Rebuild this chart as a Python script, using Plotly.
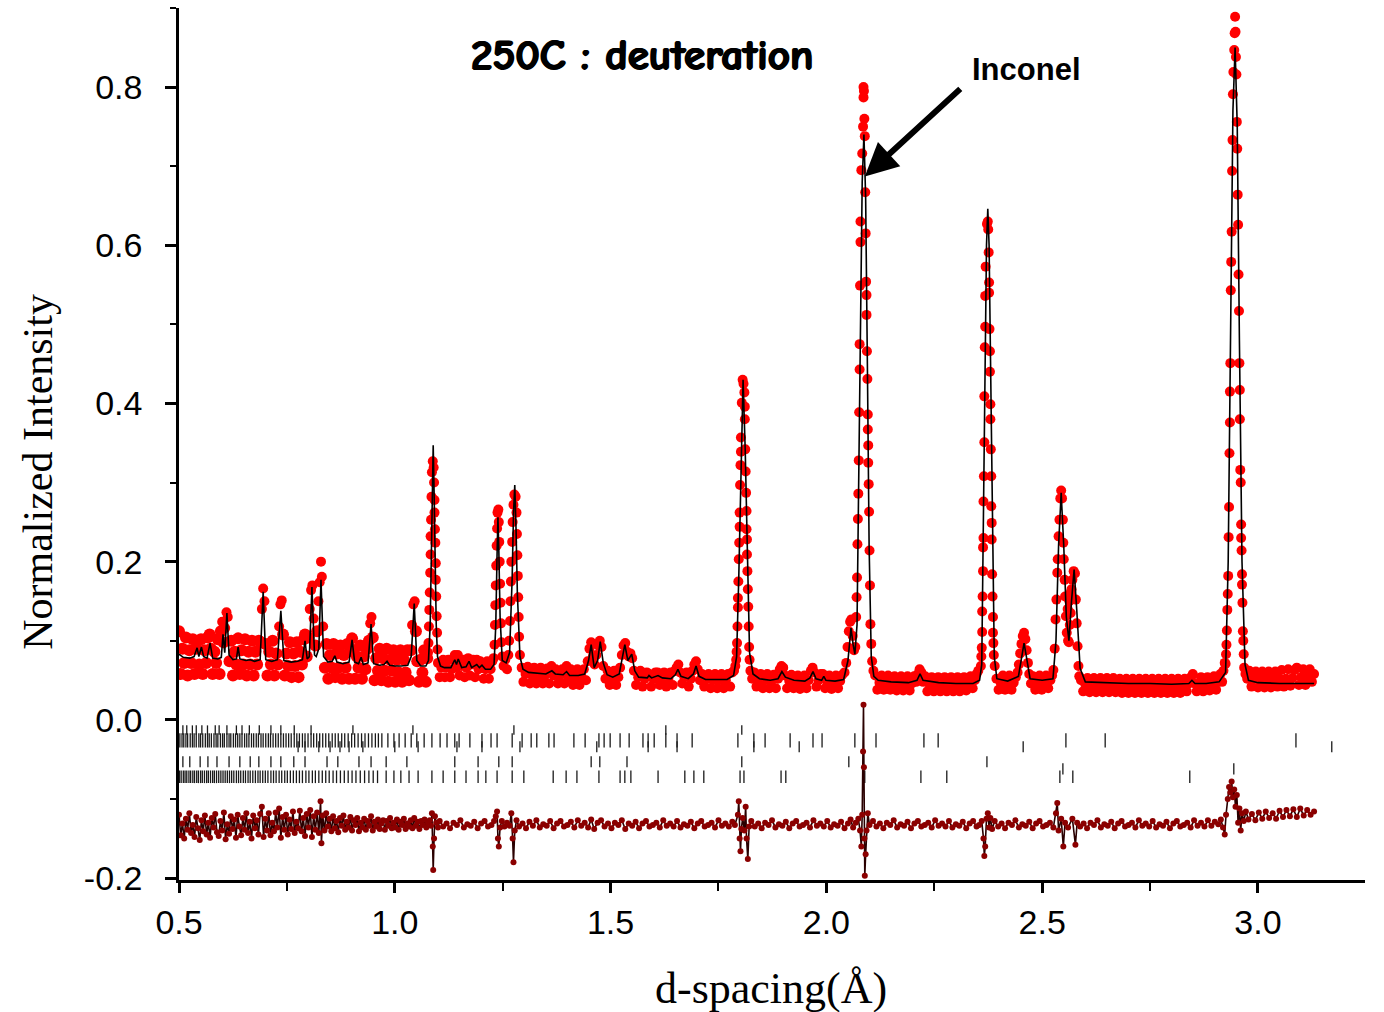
import plotly.graph_objects as go

# ---------------- observed profile (d-spacing in Angstrom, normalized intensity) ----------------
obs_low = [
    (0.500,0.112),(0.504,0.058),(0.508,0.090),(0.512,0.072),(0.516,0.104),(0.520,0.056),(0.524,0.088),(0.528,0.072),
    (0.532,0.102),(0.536,0.058),(0.540,0.090),(0.543,0.100),(0.547,0.070),(0.551,0.102),(0.555,0.058),(0.559,0.088),
    (0.563,0.072),(0.567,0.104),(0.571,0.108),(0.574,0.090),(0.578,0.058),(0.582,0.086),(0.586,0.072),(0.590,0.102),
    (0.594,0.058),(0.597,0.112),(0.600,0.124),(0.603,0.098),(0.607,0.116),(0.610,0.136),(0.613,0.130),(0.617,0.074),
    (0.621,0.100),(0.625,0.056),(0.629,0.086),(0.633,0.070),(0.637,0.103),(0.641,0.058),(0.645,0.088),(0.649,0.070),
    (0.653,0.102),(0.657,0.056),(0.661,0.086),(0.665,0.070),(0.669,0.100),(0.673,0.056),(0.677,0.086),(0.681,0.070),
    (0.685,0.100),(0.689,0.098),(0.692,0.140),(0.695,0.166),(0.698,0.150),(0.701,0.096),(0.705,0.056),(0.709,0.086),
    (0.713,0.070),(0.717,0.100),(0.721,0.056),(0.725,0.084),(0.729,0.070),(0.732,0.118),(0.735,0.146),(0.738,0.151),
    (0.741,0.108),(0.745,0.056),(0.749,0.084),(0.753,0.068),(0.757,0.098),(0.761,0.054),(0.765,0.084),(0.769,0.068),
    (0.773,0.098),(0.777,0.054),(0.781,0.086),(0.785,0.070),(0.789,0.102),(0.792,0.108),(0.796,0.080),(0.800,0.104),
    (0.803,0.140),(0.806,0.164),(0.809,0.170),(0.812,0.128),(0.816,0.094),(0.820,0.112),(0.823,0.150),(0.826,0.174),
    (0.829,0.200),(0.831,0.181),(0.834,0.118),(0.838,0.066),(0.842,0.096),(0.846,0.052),(0.850,0.082),(0.854,0.066),
    (0.858,0.096),(0.862,0.054),(0.866,0.084),(0.870,0.066),(0.874,0.094),(0.878,0.052),(0.882,0.082),(0.886,0.066),
    (0.890,0.096),(0.894,0.052),(0.898,0.090),(0.901,0.103),(0.904,0.086),(0.908,0.052),(0.912,0.080),(0.916,0.066),
    (0.920,0.094),(0.924,0.052),(0.928,0.080),(0.932,0.064),(0.936,0.090),(0.940,0.100),(0.943,0.122),(0.946,0.130),
    (0.949,0.104),(0.953,0.050),(0.957,0.078),(0.961,0.062),(0.965,0.090),(0.969,0.050),(0.973,0.078),(0.977,0.062),
    (0.981,0.090),(0.985,0.048),(0.989,0.076),(0.993,0.062),(0.997,0.088),(1.001,0.048),(1.005,0.076),(1.009,0.060),
    (1.013,0.088),(1.017,0.048),(1.021,0.076),(1.025,0.060),(1.029,0.088),(1.033,0.050),(1.037,0.088),(1.040,0.120),
    (1.043,0.146),(1.046,0.150),(1.049,0.112),(1.052,0.074),(1.056,0.048),(1.060,0.076),(1.064,0.060),(1.068,0.088),
    (1.072,0.048),(1.075,0.078),
    (1.077,0.085),(1.078,0.097),(1.079,0.118),(1.080,0.139),(1.081,0.161),(1.082,0.186),(1.083,0.209),(1.083,0.232),
    (1.084,0.253),(1.085,0.282),(1.086,0.313),(1.088,0.327),(1.090,0.319),(1.091,0.300),(1.092,0.278),(1.092,0.262),
    (1.093,0.241),(1.094,0.224),(1.095,0.198),(1.095,0.177),(1.096,0.156),(1.097,0.131),(1.098,0.110),(1.099,0.089),
    (1.100,0.072),
]

obs_mid = [
    (1.104,0.054),(1.108,0.066),(1.112,0.076),(1.116,0.054),(1.120,0.066),(1.124,0.076),(1.128,0.054),(1.132,0.064),
    (1.136,0.076),(1.139,0.082),(1.142,0.066),(1.146,0.082),(1.150,0.056),(1.154,0.068),(1.158,0.076),(1.162,0.054),
    (1.166,0.066),(1.170,0.078),(1.174,0.056),(1.178,0.070),(1.182,0.076),(1.186,0.054),(1.190,0.076),(1.194,0.064),
    (1.198,0.074),(1.202,0.070),(1.206,0.052),(1.210,0.064),(1.214,0.074),(1.218,0.052),(1.222,0.064),(1.226,0.074),
    (1.229,0.078),(1.231,0.095),(1.232,0.120),(1.233,0.145),(1.234,0.170),(1.235,0.195),(1.236,0.220),(1.237,0.242),
    (1.238,0.262),(1.240,0.266),(1.241,0.250),(1.242,0.225),(1.243,0.200),(1.244,0.172),(1.245,0.148),(1.246,0.122),
    (1.247,0.098),(1.249,0.080),(1.252,0.068),(1.256,0.076),(1.260,0.064),(1.263,0.082),
    (1.265,0.100),(1.267,0.125),(1.268,0.150),(1.269,0.175),(1.270,0.200),(1.272,0.225),(1.273,0.250),(1.275,0.272),
    (1.277,0.285),(1.280,0.282),(1.282,0.262),(1.283,0.235),(1.284,0.208),(1.285,0.182),(1.286,0.155),(1.287,0.130),
    (1.288,0.105),(1.290,0.082),
    (1.294,0.066),(1.298,0.048),(1.303,0.058),(1.308,0.067),(1.313,0.046),(1.318,0.056),(1.323,0.066),(1.328,0.046),
    (1.333,0.056),(1.338,0.066),(1.343,0.046),(1.348,0.056),(1.353,0.065),(1.358,0.046),(1.363,0.068),(1.368,0.056),
    (1.373,0.064),(1.378,0.046),(1.383,0.056),(1.388,0.064),(1.393,0.046),(1.398,0.068),(1.403,0.054),(1.408,0.064),
    (1.413,0.044),(1.418,0.054),(1.423,0.064),(1.428,0.044),(1.433,0.054),(1.438,0.064),(1.443,0.050),(1.447,0.074),
    (1.451,0.090),(1.455,0.098),(1.459,0.080),(1.463,0.070),(1.467,0.082),(1.471,0.094),(1.475,0.100),(1.479,0.092),
    (1.483,0.068),(1.488,0.052),(1.493,0.062),(1.498,0.044),(1.503,0.054),(1.508,0.062),(1.513,0.044),(1.518,0.054),
    (1.522,0.066),(1.526,0.082),(1.530,0.094),(1.534,0.097),(1.538,0.086),(1.542,0.080),(1.546,0.084),(1.550,0.078),
    (1.554,0.062),(1.559,0.044),(1.564,0.054),(1.569,0.062),(1.574,0.042),(1.579,0.052),(1.584,0.060),(1.589,0.058),
    (1.594,0.042),(1.599,0.052),(1.604,0.060),(1.609,0.060),(1.614,0.044),(1.619,0.052),(1.624,0.060),(1.629,0.042),
    (1.634,0.052),(1.639,0.060),(1.644,0.044),(1.649,0.062),(1.653,0.066),(1.657,0.070),(1.661,0.060),(1.666,0.046),
    (1.671,0.054),(1.676,0.060),(1.681,0.042),(1.686,0.052),(1.690,0.062),(1.694,0.070),(1.698,0.074),(1.702,0.064),
    (1.707,0.050),(1.712,0.058),(1.717,0.042),(1.722,0.051),(1.727,0.058),(1.732,0.040),(1.737,0.050),(1.742,0.058),
    (1.747,0.040),(1.752,0.050),(1.757,0.058),(1.762,0.040),(1.767,0.050),(1.772,0.058),(1.777,0.042),(1.782,0.060),
    (1.786,0.062),(1.789,0.068),
    (1.791,0.076),(1.792,0.086),(1.793,0.097),(1.794,0.118),(1.795,0.142),(1.795,0.154),(1.796,0.175),(1.797,0.203),
    (1.798,0.224),(1.799,0.244),(1.799,0.262),(1.800,0.297),(1.801,0.322),(1.802,0.339),(1.802,0.357),(1.804,0.401),
    (1.806,0.430),(1.808,0.425),(1.810,0.414),(1.811,0.396),(1.811,0.380),(1.812,0.342),(1.813,0.314),(1.814,0.287),
    (1.815,0.264),(1.815,0.241),(1.816,0.228),(1.816,0.209),(1.817,0.188),(1.818,0.165),(1.819,0.143),(1.820,0.118),
    (1.821,0.092),(1.822,0.076),(1.824,0.062),
    (1.828,0.052),(1.833,0.060),(1.838,0.042),(1.843,0.050),(1.848,0.058),(1.853,0.040),(1.858,0.050),(1.863,0.058),
    (1.868,0.040),(1.873,0.049),(1.878,0.057),(1.883,0.040),(1.888,0.052),(1.892,0.064),(1.896,0.068),(1.900,0.066),
    (1.904,0.056),(1.909,0.040),(1.914,0.049),(1.919,0.057),(1.924,0.040),(1.929,0.048),(1.934,0.056),(1.939,0.039),
    (1.944,0.048),(1.949,0.056),(1.954,0.040),(1.959,0.050),(1.964,0.062),(1.968,0.066),(1.972,0.060),(1.977,0.042),
    (1.982,0.050),(1.987,0.058),(1.992,0.058),(1.997,0.040),(2.002,0.048),(2.007,0.056),(2.012,0.039),(2.017,0.048),
    (2.022,0.056),(2.027,0.040),(2.032,0.049),(2.037,0.057),(2.042,0.060),(2.046,0.072),(2.049,0.092),(2.052,0.112),
    (2.055,0.124),(2.058,0.127),(2.061,0.106),(2.064,0.088),(2.067,0.092),
    (2.069,0.130),(2.070,0.155),(2.071,0.180),(2.072,0.222),(2.073,0.254),(2.074,0.286),(2.075,0.328),(2.076,0.389),
    (2.077,0.443),(2.077,0.475),(2.078,0.549),(2.079,0.604),(2.079,0.630),(2.081,0.695),(2.083,0.716),(2.085,0.750),
    (2.086,0.787),(2.086,0.800),(2.087,0.795),(2.088,0.760),(2.089,0.738),(2.090,0.667),(2.091,0.615),(2.092,0.554),
    (2.093,0.537),(2.093,0.512),(2.094,0.466),(2.095,0.431),(2.096,0.386),(2.096,0.367),(2.097,0.347),(2.097,0.325),
    (2.098,0.298),(2.099,0.263),(2.100,0.214),(2.101,0.170),(2.102,0.121),(2.104,0.096),(2.106,0.074),(2.109,0.062),
]

obs_high = [
    (2.113,0.056),(2.118,0.038),(2.123,0.047),(2.128,0.056),(2.133,0.038),(2.138,0.047),(2.143,0.056),(2.148,0.038),
    (2.153,0.047),(2.158,0.055),(2.163,0.037),(2.168,0.046),(2.173,0.055),(2.178,0.037),(2.183,0.046),(2.188,0.055),
    (2.193,0.037),(2.198,0.046),(2.203,0.055),(2.208,0.048),(2.212,0.058),(2.216,0.064),(2.220,0.060),(2.224,0.048),
    (2.229,0.055),(2.234,0.036),(2.239,0.045),(2.244,0.054),(2.249,0.036),(2.254,0.045),(2.259,0.054),(2.264,0.036),
    (2.269,0.045),(2.274,0.054),(2.279,0.036),(2.284,0.045),(2.289,0.054),(2.294,0.036),(2.299,0.045),(2.304,0.054),
    (2.309,0.036),(2.314,0.045),(2.319,0.054),(2.324,0.037),(2.329,0.046),(2.334,0.055),(2.339,0.040),(2.344,0.050),
    (2.348,0.058),(2.352,0.062),
    (2.358,0.068),(2.359,0.080),(2.360,0.091),(2.361,0.111),(2.361,0.137),(2.362,0.156),(2.363,0.188),(2.363,0.218),
    (2.364,0.230),(2.364,0.276),(2.365,0.308),(2.366,0.351),(2.366,0.409),(2.367,0.471),(2.368,0.497),(2.368,0.536),
    (2.369,0.573),(2.372,0.627),(2.374,0.630),(2.375,0.620),(2.376,0.591),(2.377,0.553),(2.377,0.540),(2.378,0.494),
    (2.379,0.466),(2.379,0.440),(2.380,0.399),(2.380,0.380),(2.381,0.342),(2.382,0.308),(2.382,0.270),(2.383,0.249),
    (2.383,0.228),(2.384,0.184),(2.385,0.156),(2.386,0.130),(2.386,0.110),(2.387,0.097),(2.388,0.082),(2.390,0.068),
    (2.394,0.052),(2.399,0.038),(2.404,0.047),(2.409,0.056),(2.414,0.038),(2.419,0.047),(2.424,0.056),(2.429,0.038),
    (2.434,0.047),(2.439,0.054),(2.443,0.060),
    (2.446,0.070),(2.449,0.084),(2.452,0.096),(2.455,0.106),(2.458,0.110),(2.461,0.102),(2.464,0.088),(2.467,0.072),
    (2.470,0.058),(2.474,0.046),(2.479,0.055),(2.484,0.038),(2.489,0.047),(2.494,0.056),(2.499,0.038),(2.504,0.047),
    (2.509,0.056),(2.514,0.040),(2.519,0.050),(2.523,0.056),(2.526,0.063),
    (2.529,0.090),(2.531,0.127),(2.533,0.152),(2.535,0.186),(2.536,0.203),(2.538,0.232),(2.540,0.253),(2.542,0.280),
    (2.544,0.290),(2.546,0.280),(2.548,0.253),(2.549,0.224),(2.550,0.203),(2.552,0.177),(2.553,0.156),(2.555,0.131),
    (2.557,0.110),(2.559,0.140),(2.560,0.100),(2.562,0.098),(2.563,0.150),(2.564,0.120),(2.565,0.160),(2.566,0.135),
    (2.568,0.165),(2.570,0.177),(2.573,0.188),(2.576,0.185),(2.578,0.152),(2.580,0.122),(2.582,0.093),(2.584,0.068),
    (2.586,0.055),
    (2.590,0.050),(2.595,0.036),(2.600,0.045),(2.605,0.053),(2.610,0.035),(2.615,0.044),(2.620,0.053),(2.625,0.035),
    (2.630,0.044),(2.635,0.053),(2.640,0.035),(2.645,0.044),(2.650,0.053),(2.655,0.035),(2.660,0.044),(2.665,0.053),
    (2.670,0.035),(2.675,0.044),(2.680,0.052),(2.685,0.034),(2.690,0.043),(2.695,0.052),(2.700,0.034),(2.705,0.043),
    (2.710,0.052),(2.715,0.034),(2.720,0.043),(2.725,0.052),(2.730,0.034),(2.735,0.043),(2.740,0.052),(2.745,0.034),
    (2.750,0.043),(2.755,0.052),(2.760,0.034),(2.765,0.043),(2.770,0.052),(2.775,0.034),(2.780,0.043),(2.785,0.052),
    (2.790,0.034),(2.795,0.043),(2.800,0.052),(2.805,0.034),(2.810,0.043),(2.815,0.052),(2.820,0.034),(2.825,0.043),
    (2.830,0.052),(2.835,0.036),(2.840,0.046),(2.845,0.054),(2.849,0.058),(2.853,0.046),(2.858,0.036),(2.863,0.045),
    (2.868,0.054),(2.873,0.036),(2.878,0.045),(2.883,0.054),(2.888,0.037),(2.893,0.046),(2.898,0.055),(2.903,0.038),
    (2.908,0.048),(2.913,0.058),(2.917,0.048),(2.920,0.062),(2.923,0.072),
    (2.925,0.071),(2.926,0.083),(2.927,0.095),(2.928,0.113),(2.929,0.139),(2.930,0.159),(2.931,0.182),(2.932,0.231),
    (2.933,0.269),(2.934,0.337),(2.935,0.376),(2.935,0.415),(2.936,0.451),(2.937,0.543),(2.938,0.579),(2.939,0.617),
    (2.940,0.694),(2.941,0.733),(2.942,0.791),(2.943,0.819),(2.945,0.847),(2.946,0.868),(2.947,0.889),(2.948,0.870),
    (2.949,0.838),(2.950,0.816),(2.951,0.756),(2.952,0.722),(2.953,0.664),(2.954,0.626),(2.955,0.563),(2.956,0.517),
    (2.957,0.451),(2.958,0.417),(2.958,0.380),(2.959,0.316),(2.960,0.300),(2.961,0.247),(2.961,0.230),(2.962,0.214),
    (2.963,0.184),(2.963,0.171),(2.964,0.148),(2.965,0.112),(2.966,0.100),(2.967,0.083),(2.968,0.066),(2.971,0.058),
    (2.975,0.052),(2.980,0.062),(2.985,0.042),(2.990,0.052),(2.995,0.061),(3.000,0.041),(3.005,0.051),(3.010,0.061),
    (3.015,0.041),(3.020,0.051),(3.025,0.061),(3.030,0.041),(3.035,0.051),(3.040,0.061),(3.045,0.042),(3.050,0.052),
    (3.055,0.063),(3.060,0.042),(3.065,0.052),(3.070,0.064),(3.075,0.043),(3.080,0.053),(3.085,0.063),(3.090,0.066),
    (3.095,0.044),(3.100,0.054),(3.105,0.064),(3.110,0.044),(3.115,0.054),(3.120,0.064),(3.125,0.048),(3.130,0.058),
]

# ---------------- calculated profile ----------------
calc_profile = [
    (0.500,0.083),(0.510,0.079),(0.525,0.078),(0.535,0.080),(0.542,0.091),(0.546,0.080),(0.552,0.092),(0.557,0.080),
    (0.565,0.078),(0.572,0.097),(0.578,0.078),(0.590,0.077),(0.598,0.079),(0.602,0.108),(0.606,0.085),(0.611,0.135),
    (0.616,0.082),(0.625,0.076),(0.633,0.077),(0.637,0.092),(0.641,0.077),(0.655,0.075),(0.665,0.076),(0.675,0.074),
    (0.688,0.076),(0.695,0.162),(0.701,0.076),(0.715,0.074),(0.728,0.076),(0.736,0.138),(0.743,0.075),(0.760,0.073),
    (0.775,0.074),(0.786,0.076),(0.792,0.100),(0.797,0.077),(0.802,0.080),(0.808,0.168),(0.814,0.082),(0.818,0.080),
    (0.824,0.090),(0.829,0.177),(0.835,0.080),(0.845,0.073),(0.855,0.074),(0.861,0.081),(0.866,0.073),(0.880,0.071),
    (0.894,0.073),(0.901,0.101),(0.907,0.073),(0.916,0.071),(0.922,0.079),(0.927,0.070),(0.938,0.072),(0.945,0.121),
    (0.951,0.071),(0.965,0.069),(0.975,0.070),(0.982,0.074),(0.988,0.069),(1.000,0.068),(1.015,0.068),(1.030,0.069),
    (1.038,0.080),(1.045,0.147),(1.051,0.075),(1.060,0.068),(1.072,0.068),(1.078,0.075),(1.082,0.120),(1.085,0.210),
    (1.087,0.290),(1.089,0.347),(1.091,0.290),(1.093,0.200),(1.096,0.120),(1.099,0.080),(1.106,0.068),(1.115,0.066),
    (1.130,0.066),(1.139,0.076),(1.143,0.070),(1.147,0.077),(1.155,0.066),(1.165,0.067),(1.172,0.074),(1.178,0.066),
    (1.190,0.070),(1.196,0.066),(1.202,0.069),(1.210,0.064),(1.222,0.064),(1.230,0.070),(1.234,0.120),(1.237,0.210),
    (1.239,0.256),(1.241,0.215),(1.244,0.130),(1.249,0.075),(1.258,0.072),(1.266,0.085),(1.272,0.180),(1.275,0.260),
    (1.278,0.297),(1.281,0.240),(1.284,0.160),(1.290,0.080),(1.297,0.064),(1.310,0.060),(1.330,0.059),(1.350,0.058),
    (1.364,0.062),(1.372,0.058),(1.390,0.057),(1.398,0.061),(1.405,0.056),(1.425,0.056),(1.440,0.058),(1.449,0.075),
    (1.455,0.095),(1.462,0.066),(1.470,0.075),(1.476,0.099),(1.483,0.072),(1.492,0.057),(1.505,0.054),(1.520,0.058),
    (1.533,0.095),(1.540,0.075),(1.549,0.083),(1.556,0.062),(1.565,0.054),(1.585,0.053),(1.589,0.056),(1.595,0.053),
    (1.610,0.056),(1.620,0.053),(1.640,0.052),(1.650,0.057),(1.656,0.064),(1.663,0.055),(1.680,0.052),(1.692,0.058),
    (1.698,0.068),(1.705,0.055),(1.720,0.051),(1.740,0.051),(1.770,0.051),(1.785,0.056),(1.792,0.080),(1.797,0.180),
    (1.802,0.330),(1.807,0.430),(1.812,0.340),(1.817,0.200),(1.822,0.085),(1.830,0.058),(1.845,0.052),(1.870,0.050),
    (1.888,0.052),(1.897,0.061),(1.905,0.054),(1.925,0.050),(1.950,0.049),(1.962,0.053),(1.969,0.061),(1.976,0.052),
    (1.989,0.050),(1.994,0.055),(1.999,0.050),(2.020,0.049),(2.040,0.051),(2.050,0.075),(2.057,0.116),(2.062,0.095),
    (2.066,0.083),(2.071,0.120),(2.075,0.300),(2.079,0.520),(2.083,0.680),(2.087,0.740),(2.091,0.660),(2.095,0.450),
    (2.099,0.220),(2.104,0.080),(2.110,0.055),(2.120,0.050),(2.150,0.048),(2.190,0.047),(2.210,0.050),(2.217,0.058),
    (2.224,0.050),(2.260,0.047),(2.300,0.046),(2.340,0.046),(2.355,0.050),(2.360,0.070),(2.364,0.250),(2.368,0.480),
    (2.371,0.600),(2.374,0.646),(2.377,0.600),(2.380,0.470),(2.384,0.260),(2.389,0.080),(2.395,0.052),(2.420,0.049),
    (2.445,0.055),(2.452,0.080),(2.458,0.097),(2.464,0.078),(2.472,0.052),(2.500,0.050),(2.525,0.052),(2.532,0.100),
    (2.538,0.220),(2.544,0.287),(2.550,0.220),(2.556,0.130),(2.562,0.100),(2.568,0.150),(2.574,0.190),(2.580,0.140),
    (2.588,0.065),(2.600,0.048),(2.650,0.047),(2.700,0.046),(2.750,0.046),(2.800,0.045),(2.840,0.046),(2.847,0.050),
    (2.854,0.046),(2.880,0.046),(2.910,0.048),(2.925,0.060),(2.931,0.200),(2.937,0.500),(2.942,0.770),(2.947,0.850),
    (2.952,0.750),(2.957,0.480),(2.963,0.200),(2.970,0.070),(2.978,0.050),(3.000,0.047),(3.050,0.046),(3.100,0.046),
    (3.130,0.046),
]

# ---------------- difference curve (offset below the pattern) ----------------
diff_low = [
    (0.500,-0.120),(0.504,-0.146),(0.508,-0.131),(0.512,-0.150),(0.516,-0.125),(0.520,-0.139),(0.524,-0.118),(0.528,-0.143),
    (0.532,-0.133),(0.536,-0.148),(0.540,-0.123),(0.544,-0.137),(0.548,-0.152),(0.552,-0.127),(0.556,-0.141),(0.560,-0.121),
    (0.564,-0.145),(0.568,-0.130),(0.572,-0.149),(0.576,-0.124),(0.580,-0.136),(0.584,-0.119),(0.588,-0.142),(0.592,-0.147),
    (0.596,-0.128),(0.600,-0.140),(0.604,-0.117),(0.608,-0.151),(0.612,-0.132),(0.616,-0.144),(0.620,-0.122),(0.624,-0.138),
    (0.628,-0.126),(0.632,-0.149),(0.636,-0.120),(0.640,-0.135),(0.644,-0.146),(0.648,-0.124),(0.652,-0.139),(0.656,-0.118),
    (0.660,-0.143),(0.664,-0.129),(0.668,-0.150),(0.672,-0.121),(0.676,-0.137),(0.680,-0.127),(0.684,-0.145),(0.688,-0.119),
    (0.692,-0.110),(0.696,-0.148),(0.700,-0.125),(0.704,-0.140),(0.708,-0.118),(0.712,-0.146),(0.716,-0.130),(0.720,-0.141),
    (0.724,-0.117),(0.728,-0.136),(0.732,-0.112),(0.736,-0.149),(0.740,-0.123),(0.744,-0.139),(0.748,-0.120),(0.752,-0.145),
    (0.756,-0.126),(0.760,-0.138),(0.764,-0.116),(0.768,-0.143),(0.772,-0.129),(0.776,-0.137),(0.780,-0.115),(0.784,-0.141),
    (0.788,-0.124),(0.792,-0.147),(0.796,-0.119),(0.800,-0.136),(0.804,-0.114),(0.808,-0.148),(0.812,-0.122),(0.816,-0.139),
    (0.820,-0.117),(0.824,-0.143),(0.828,-0.103),(0.830,-0.156),(0.833,-0.121),(0.837,-0.140),(0.841,-0.118),(0.845,-0.135),
    (0.849,-0.125),(0.853,-0.141),(0.857,-0.122),(0.861,-0.137),(0.865,-0.128),(0.869,-0.142),(0.873,-0.124),(0.877,-0.134),
    (0.881,-0.121),(0.885,-0.139),(0.889,-0.129),(0.893,-0.136),(0.897,-0.123),(0.901,-0.140),(0.905,-0.127),(0.909,-0.133),
    (0.913,-0.124),(0.917,-0.141),(0.921,-0.130),(0.925,-0.136),(0.929,-0.125),(0.933,-0.139),(0.937,-0.128),(0.941,-0.134),
    (0.945,-0.122),(0.949,-0.140),(0.953,-0.129),(0.957,-0.135),(0.961,-0.126),(0.965,-0.138),(0.969,-0.131),(0.973,-0.127),
    (0.977,-0.139),(0.981,-0.128),(0.985,-0.134),(0.989,-0.124),(0.993,-0.137),(0.997,-0.130),(1.001,-0.136),(1.005,-0.126),
    (1.009,-0.139),(1.013,-0.129),(1.017,-0.133),(1.021,-0.125),(1.025,-0.138),(1.029,-0.131),(1.033,-0.135),(1.037,-0.127),
    (1.041,-0.137),(1.045,-0.124),(1.049,-0.134),(1.053,-0.129),(1.057,-0.138),(1.061,-0.128),(1.065,-0.133),(1.069,-0.126),
    (1.073,-0.136),(1.077,-0.130),(1.081,-0.127),(1.084,-0.134),(1.086,-0.118),(1.088,-0.160),(1.089,-0.190),(1.091,-0.150),
    (1.093,-0.122),(1.096,-0.130),(1.100,-0.136),
]

diff_mid = [
    (1.104,-0.128),(1.112,-0.135),(1.120,-0.131),(1.128,-0.137),(1.136,-0.130),(1.144,-0.133),(1.152,-0.127),(1.160,-0.136),
    (1.168,-0.132),(1.176,-0.134),(1.184,-0.129),(1.192,-0.137),(1.200,-0.131),(1.208,-0.128),(1.216,-0.135),(1.224,-0.133),
    (1.230,-0.128),(1.234,-0.122),(1.237,-0.116),(1.239,-0.150),(1.241,-0.160),(1.244,-0.136),(1.248,-0.128),(1.254,-0.135),
    (1.260,-0.130),(1.266,-0.134),(1.270,-0.118),(1.273,-0.150),(1.275,-0.180),(1.278,-0.140),(1.282,-0.127),(1.288,-0.135),
    (1.296,-0.131),(1.304,-0.137),(1.312,-0.129),(1.320,-0.134),(1.328,-0.127),(1.336,-0.136),(1.344,-0.132),(1.352,-0.134),
    (1.360,-0.128),(1.368,-0.137),(1.376,-0.131),(1.384,-0.128),(1.392,-0.135),(1.400,-0.133),(1.408,-0.129),(1.416,-0.136),
    (1.424,-0.127),(1.432,-0.134),(1.440,-0.130),(1.448,-0.136),(1.455,-0.126),(1.462,-0.138),(1.470,-0.130),(1.478,-0.127),
    (1.486,-0.135),(1.494,-0.131),(1.502,-0.137),(1.510,-0.130),(1.518,-0.133),(1.526,-0.127),(1.534,-0.138),(1.542,-0.131),
    (1.550,-0.134),(1.558,-0.129),(1.566,-0.137),(1.574,-0.131),(1.582,-0.128),(1.590,-0.135),(1.598,-0.133),(1.606,-0.130),
    (1.614,-0.136),(1.622,-0.127),(1.630,-0.134),(1.638,-0.131),(1.646,-0.135),(1.654,-0.128),(1.662,-0.136),(1.670,-0.132),
    (1.678,-0.134),(1.686,-0.129),(1.694,-0.137),(1.702,-0.131),(1.710,-0.128),(1.718,-0.135),(1.726,-0.133),(1.734,-0.130),
    (1.742,-0.136),(1.750,-0.127),(1.758,-0.134),(1.766,-0.131),(1.774,-0.135),(1.782,-0.129),(1.788,-0.133),(1.795,-0.120),
    (1.797,-0.103),(1.799,-0.150),(1.801,-0.166),(1.803,-0.138),(1.806,-0.124),(1.810,-0.140),(1.813,-0.110),(1.815,-0.150),
    (1.818,-0.176),(1.821,-0.135),(1.826,-0.128),(1.834,-0.135),(1.842,-0.131),(1.850,-0.137),(1.858,-0.130),(1.866,-0.133),
    (1.874,-0.127),(1.882,-0.136),(1.890,-0.132),(1.898,-0.134),(1.906,-0.129),(1.914,-0.137),(1.922,-0.131),(1.930,-0.128),
    (1.938,-0.135),(1.946,-0.133),(1.954,-0.130),(1.962,-0.136),(1.970,-0.127),(1.978,-0.134),(1.986,-0.131),(1.994,-0.135),
    (2.002,-0.128),(2.010,-0.136),(2.018,-0.132),(2.026,-0.134),(2.034,-0.129),(2.042,-0.137),(2.050,-0.131),(2.056,-0.126),
    (2.062,-0.136),(2.068,-0.130),(2.074,-0.125),(2.078,-0.140),(2.081,-0.160),(2.083,-0.120),(2.085,-0.040),(2.086,0.019),
    (2.087,-0.060),(2.088,-0.150),(2.089,-0.197),(2.091,-0.170),(2.093,-0.140),(2.096,-0.118),(2.100,-0.133),
]

diff_high = [
    (2.108,-0.128),(2.116,-0.135),(2.124,-0.131),(2.132,-0.137),(2.140,-0.130),(2.148,-0.133),(2.156,-0.127),(2.164,-0.136),
    (2.172,-0.132),(2.180,-0.134),(2.188,-0.129),(2.196,-0.137),(2.204,-0.131),(2.212,-0.128),(2.220,-0.135),(2.228,-0.133),
    (2.236,-0.130),(2.244,-0.136),(2.252,-0.127),(2.260,-0.134),(2.268,-0.131),(2.276,-0.135),(2.284,-0.128),(2.292,-0.136),
    (2.300,-0.132),(2.308,-0.134),(2.316,-0.129),(2.324,-0.137),(2.332,-0.131),(2.340,-0.128),(2.348,-0.135),(2.354,-0.133),
    (2.360,-0.128),(2.364,-0.150),(2.366,-0.172),(2.368,-0.160),(2.371,-0.125),(2.374,-0.118),(2.377,-0.136),(2.380,-0.124),
    (2.384,-0.138),(2.390,-0.128),(2.398,-0.135),(2.406,-0.131),(2.414,-0.137),(2.422,-0.130),(2.430,-0.133),(2.438,-0.127),
    (2.446,-0.136),(2.454,-0.132),(2.462,-0.134),(2.470,-0.129),(2.478,-0.137),(2.486,-0.131),(2.494,-0.128),(2.502,-0.135),
    (2.510,-0.133),(2.518,-0.130),(2.526,-0.136),(2.532,-0.118),(2.535,-0.105),(2.538,-0.140),(2.544,-0.125),(2.549,-0.160),
    (2.553,-0.130),(2.560,-0.136),(2.570,-0.125),(2.577,-0.158),(2.581,-0.130),(2.588,-0.135),(2.596,-0.131),(2.604,-0.137),
    (2.612,-0.130),(2.620,-0.133),(2.628,-0.127),(2.636,-0.136),(2.644,-0.132),(2.652,-0.134),(2.660,-0.129),(2.668,-0.137),
    (2.676,-0.131),(2.684,-0.128),(2.692,-0.135),(2.700,-0.133),(2.708,-0.130),(2.716,-0.136),(2.724,-0.127),(2.732,-0.134),
    (2.740,-0.131),(2.748,-0.135),(2.756,-0.128),(2.764,-0.136),(2.772,-0.132),(2.780,-0.134),(2.788,-0.129),(2.796,-0.137),
    (2.804,-0.131),(2.812,-0.128),(2.820,-0.135),(2.828,-0.133),(2.836,-0.130),(2.844,-0.136),(2.852,-0.127),(2.860,-0.134),
    (2.868,-0.130),(2.876,-0.135),(2.884,-0.127),(2.892,-0.134),(2.900,-0.129),(2.908,-0.132),(2.914,-0.126),(2.919,-0.136),
    (2.923,-0.145),(2.926,-0.120),(2.930,-0.100),(2.933,-0.085),(2.936,-0.092),(2.939,-0.078),(2.942,-0.098),(2.945,-0.088),
    (2.948,-0.110),(2.951,-0.095),(2.954,-0.130),(2.957,-0.112),(2.960,-0.140),(2.963,-0.118),(2.967,-0.128),(2.972,-0.116),
    (2.978,-0.126),(2.986,-0.119),(2.994,-0.127),(3.002,-0.117),(3.010,-0.125),(3.018,-0.116),(3.026,-0.124),(3.034,-0.118),
    (3.042,-0.125),(3.050,-0.115),(3.058,-0.123),(3.066,-0.114),(3.074,-0.122),(3.082,-0.113),(3.090,-0.123),(3.098,-0.112),
    (3.106,-0.121),(3.114,-0.114),(3.122,-0.120),(3.130,-0.116),
]

# ---------------- reflection positions (d-spacing) for each tick row ----------------
refl_row_a = [0.509, 0.518, 0.531, 0.540, 0.553, 0.566, 0.584, 0.593, 0.611, 0.633, 0.646, 0.663, 0.686, 0.713,
              0.736, 0.767, 0.806, 0.903, 1.042, 1.276, 1.628, 1.804]
refl_row_b = [0.502, 0.507, 0.511, 0.516, 0.520, 0.526, 0.531, 0.535, 0.540, 0.546, 0.550, 0.555, 0.561, 0.566,
              0.570, 0.575, 0.581, 0.586, 0.590, 0.596, 0.601, 0.605, 0.611, 0.616, 0.620, 0.626, 0.631, 0.636,
              0.641, 0.646, 0.652, 0.657, 0.662, 0.668, 0.673, 0.679, 0.684, 0.690, 0.695, 0.701, 0.707, 0.712,
              0.718, 0.724, 0.730, 0.736, 0.742, 0.748, 0.754, 0.760, 0.767, 0.773, 0.779, 0.786, 0.792, 0.799,
              0.806, 0.812, 0.819, 0.826, 0.833, 0.840, 0.847, 0.855, 0.862, 0.869, 0.877, 0.884, 0.892, 0.900,
              0.907, 0.915, 0.923, 0.931, 0.939, 0.947, 0.955, 0.962, 0.970, 0.984, 0.998, 1.010, 1.024, 1.038,
              1.051, 1.068, 1.086, 1.105, 1.121, 1.139, 1.149, 1.174, 1.202, 1.223, 1.237, 1.272, 1.295, 1.316,
              1.329, 1.357, 1.369, 1.415, 1.441, 1.473, 1.485, 1.499, 1.522, 1.543, 1.575, 1.587, 1.601, 1.628,
              1.654, 1.689, 1.795, 1.832, 1.858, 1.916, 1.969, 1.990, 2.066, 2.115, 2.226, 2.259, 2.555, 2.646,
              3.088]
refl_row_c = [0.776, 0.792, 0.824, 0.850, 0.873, 0.894, 0.926, 1.000, 1.054, 1.144, 1.202, 1.290, 1.468, 1.587,
              1.654, 1.832, 1.937, 2.456, 3.171]
refl_row_d = [0.509, 0.525, 0.549, 0.567, 0.588, 0.616, 0.641, 0.665, 0.685, 0.713, 0.736, 0.766, 0.792, 0.843,
              0.868, 0.917, 0.945, 0.980, 1.028, 1.139, 1.193, 1.241, 1.272, 1.455, 1.475, 1.538, 1.804, 2.052,
              2.372]
refl_row_e = [2.548, 2.944]
refl_row_f = [0.501, 0.505, 0.510, 0.514, 0.518, 0.523, 0.527, 0.532, 0.536, 0.541, 0.545, 0.550, 0.554, 0.559,
              0.564, 0.568, 0.573, 0.578, 0.582, 0.587, 0.592, 0.597, 0.602, 0.607, 0.612, 0.617, 0.622, 0.627,
              0.633, 0.638, 0.643, 0.649, 0.654, 0.660, 0.665, 0.671, 0.677, 0.683, 0.688, 0.694, 0.700, 0.706,
              0.713, 0.719, 0.725, 0.732, 0.738, 0.745, 0.751, 0.758, 0.765, 0.772, 0.779, 0.786, 0.794, 0.801,
              0.809, 0.816, 0.824, 0.832, 0.840, 0.848, 0.857, 0.865, 0.874, 0.883, 0.892, 0.901, 0.910, 0.920,
              0.930, 0.940, 0.950, 0.960, 0.980, 0.998, 1.014, 1.033, 1.054, 1.086, 1.112, 1.139, 1.165, 1.193,
              1.211, 1.237, 1.272, 1.299, 1.367, 1.397, 1.422, 1.473, 1.522, 1.533, 1.547, 1.610, 1.672, 1.693,
              1.716, 1.800, 1.809, 1.895, 1.906, 2.089, 2.219, 2.279, 2.541, 2.571, 2.842]

# vertical placement of each tick row: (centre, half-height)
tick_rows = [
    (refl_row_a, -0.013, 0.006),
    (refl_row_b, -0.026, 0.009),
    (refl_row_c, -0.034, 0.007),
    (refl_row_d, -0.053, 0.007),
    (refl_row_e, -0.062, 0.007),
    (refl_row_f, -0.072, 0.008),
]

y_tick_vals = [-0.2, 0.0, 0.2, 0.4, 0.6, 0.8]
y_tick_text = ["-0.2", "0.0", "0.2", "0.4", "0.6", "0.8"]
x_tick_vals = [0.5, 1.0, 1.5, 2.0, 2.5, 3.0]
x_tick_text = ["0.5", "1.0", "1.5", "2.0", "2.5", "3.0"]

# ---------------- figure ----------------
obs = obs_low + obs_mid + obs_high
diff = diff_low + diff_mid + diff_high
obs_x = [p[0] for p in obs]
obs_y = [p[1] for p in obs]
# the noisy low-d background is drawn with slightly larger dots so it reads as a solid band
obs_size = [12 if (x < 1.076 and y < 0.115) else 10 for x, y in zip(obs_x, obs_y)]

fig = go.Figure()

fig.add_trace(go.Scatter(
    x=obs_x, y=obs_y, mode="markers",
    marker=dict(color="#ff0000", size=obs_size, opacity=1, line=dict(width=0)),
    name="observed", showlegend=False, hoverinfo="skip"))

fig.add_trace(go.Scatter(
    x=[p[0] for p in calc_profile], y=[p[1] for p in calc_profile], mode="lines",
    line=dict(color="black", width=1.6), name="calculated", showlegend=False, hoverinfo="skip"))

tick_x, tick_y = [], []
for positions, centre, half in tick_rows:
    for d in positions:
        tick_x += [d, d, None]
        tick_y += [centre - half, centre + half, None]
fig.add_trace(go.Scatter(
    x=tick_x, y=tick_y, mode="lines", line=dict(color="#1a1a1a", width=1.3),
    showlegend=False, hoverinfo="skip"))

fig.add_trace(go.Scatter(
    x=[p[0] for p in diff], y=[p[1] for p in diff], mode="lines+markers",
    line=dict(color="#2a0000", width=1.6), marker=dict(color="#8b0000", size=6, line=dict(width=0)),
    showlegend=False, hoverinfo="skip"))

axis_font = dict(family="Liberation Sans, Arial, sans-serif", size=34, color="black")

fig.update_layout(
    width=1384, height=1012, autosize=False,
    margin=dict(l=179, r=19, t=8, b=132, pad=0),
    paper_bgcolor="white", plot_bgcolor="white",
    xaxis=dict(range=[0.5, 3.248], tickmode="array", tickvals=x_tick_vals, ticktext=x_tick_text,
               showline=True, linecolor="black", linewidth=2.5, ticks="outside", ticklen=10,
               tickwidth=2.5, tickcolor="black", showgrid=False, zeroline=False, tickfont=axis_font,
               ticklabelstandoff=0,
               minor=dict(tickmode="linear", tick0=0.25, dtick=0.25, ticks="outside", ticklen=8,
                          tickwidth=2.2, tickcolor="black", showgrid=False)),
    yaxis=dict(range=[-0.2025, 0.9], tickmode="array", tickvals=y_tick_vals, ticktext=y_tick_text,
               showline=True, linecolor="black", linewidth=2.5, ticks="outside", ticklen=11,
               tickwidth=2.5, tickcolor="black", showgrid=False, zeroline=False, tickfont=axis_font,
               ticklabelstandoff=16,
               minor=dict(tickmode="linear", tick0=0.1, dtick=0.2, ticks="outside", ticklen=6,
                          tickwidth=2.2, tickcolor="black", showgrid=False)),
)

# heavy title: a thin same-colour shadow thickens the strokes of the handwritten-style face
fig.add_annotation(text="<b>250C : deuteration</b>", xref="paper", yref="paper", x=0.390, y=0.946,
                   showarrow=False, xanchor="center", yanchor="middle",
                   font=dict(family="Comic Sans MS, Comic Neue, DejaVu Sans, sans-serif", size=43,
                             color="black",
                             shadow="1px 0px 0px black, -1px 0px 0px black, 0px 1px 0px black"))
fig.add_annotation(text="<b>Inconel</b>", xref="paper", yref="paper", x=0.715, y=0.929,
                   showarrow=False, xanchor="center", yanchor="middle",
                   font=dict(family="Liberation Sans, Arial, sans-serif", size=31, color="black"))
fig.add_annotation(text="", x=2.089, y=0.687, xref="x", yref="y", showarrow=True,
                   ax=97, ay=-89, axref="pixel", ayref="pixel",
                   arrowhead=2, arrowsize=1.1, arrowwidth=6, arrowcolor="black")
fig.add_annotation(text="d-spacing(Å)", xref="paper", yref="paper", x=0.499, y=-0.124,
                   showarrow=False, xanchor="center", yanchor="middle",
                   font=dict(family="Liberation Serif, Times New Roman, serif", size=44, color="black"))
fig.add_annotation(text="Normalized Intensity", xref="paper", yref="paper", x=-0.119, y=0.468,
                   showarrow=False, xanchor="center", yanchor="middle", textangle=-90,
                   font=dict(family="Liberation Serif, Times New Roman, serif", size=42, color="black"))

fig.write_html("out.html")
